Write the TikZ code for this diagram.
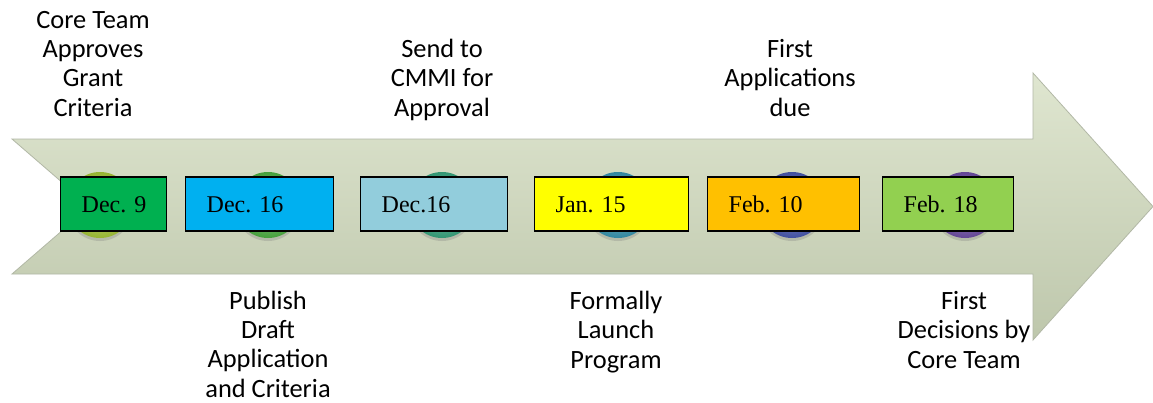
\documentclass[tikz,border=0pt]{standalone}
\usepackage{fontspec}
\usetikzlibrary{shapes.geometric}
\setmainfont{Liberation Serif}
\newfontfamily\calibri{Carlito}
\definecolor{arrowtop}{RGB}{223,230,208}
\definecolor{arrowbot}{RGB}{190,199,172}
\definecolor{arrowedge}{RGB}{178,184,166}
\definecolor{bDecA}{RGB}{150,180,50}
\definecolor{bDecB}{RGB}{70,160,60}
\definecolor{bDecC}{RGB}{50,150,115}
\definecolor{bJan}{RGB}{50,135,160}
\definecolor{bFebA}{RGB}{65,80,160}
\definecolor{bFebB}{RGB}{100,70,150}
\definecolor{fDecA}{RGB}{0,176,80}
\definecolor{fDecB}{RGB}{0,176,240}
\definecolor{fDecC}{RGB}{146,205,220}
\definecolor{fJan}{RGB}{255,255,0}
\definecolor{fFebA}{RGB}{255,192,0}
\definecolor{fFebB}{RGB}{146,208,80}
\begin{document}
\begin{tikzpicture}[x=1pt,y=-1pt,
  lbl/.style={font=\calibri\fontsize{26.4}{29.3}\selectfont, align=center, anchor=base, inner sep=0pt},
  datebox/.style={draw=black, line width=1.4pt, minimum height=54pt, inner xsep=21pt, inner ysep=0pt,
    anchor=west, font=\fontsize{24}{28}\selectfont, text height=16pt, text depth=0pt},
  ball/.style={circle, minimum size=66pt, inner sep=0pt, inner color=#1!55!white, outer color=#1, draw=none},
  ballshadow/.style={ellipse, minimum width=64pt, minimum height=62pt, inner sep=0pt, fill=black!50, opacity=0.3, draw=none}
]
\useasboundingbox (0,0) rectangle (1153,402);
\fill[white] (0,0) rectangle (1153,402);
% big arrow
\path[top color=arrowtop, bottom color=arrowbot, draw=arrowedge, line width=0.8pt, line join=miter]
  (12,139) -- (1033,139) -- (1033,73) -- (1153,206.5) -- (1033,340) -- (1033,274) -- (12,274) -- (90,206.5) -- cycle;
% balls
\foreach \x/\c/\n in {100/bDecA/1, 268/bDecB/2, 442/bDecC/3, 618/bJan/4, 792/bFebA/5, 965/bFebB/6}{
  \node[ballshadow] (sh\n) at (\x,210) {};
  \node[ball=\c] (s\n) at (\x,205) {};
}
% date boxes
\node[datebox, fill=fDecA] (d1) at (60,204) {\makebox[64pt][l]{Dec. 9}};
\node[datebox, fill=fDecB] (d2) at (185,204) {\makebox[106pt][l]{Dec. 16}};
\node[datebox, fill=fDecC] (d3) at (360,204) {\makebox[105pt][l]{Dec.16}};
\node[datebox, fill=fJan] (d4) at (534,204) {\makebox[112pt][l]{Jan. 15}};
\node[datebox, fill=fFebA] (d5) at (707,204) {\makebox[110pt][l]{Feb. 10}};
\node[datebox, fill=fFebB] (d6) at (882,204) {\makebox[89pt][l]{Feb. 18}};
% labels (anchor base = baseline of last line)
\node[lbl] (t1) at (93,116) {Core Team\\Approves\\Grant\\Criteria};
\node[lbl] (t2) at (268,397) {Publish\\Draft\\Application\\and Criteria};
\node[lbl] (t3) at (442,116) {Send to\\CMMI for\\Approval};
\node[lbl] (t4) at (616,368) {Formally\\Launch\\Program};
\node[lbl] (t5) at (790,116) {First\\Applications\\due};
\node[lbl] (t6) at (964,368) {First\\Decisions by\\Core Team};
\end{tikzpicture}
\end{document}
